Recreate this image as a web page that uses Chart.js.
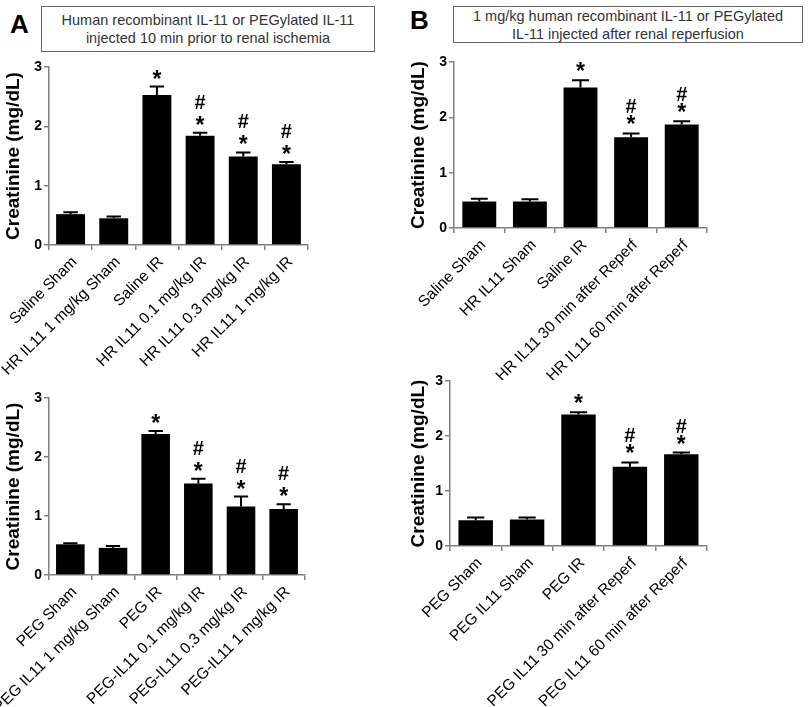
<!DOCTYPE html>
<html>
<head>
<meta charset="utf-8">
<script src="https://cdn.jsdelivr.net/npm/chart.js@4"></script>
<style>
  body { margin: 0; background: #fff; font-family: "Liberation Sans", Arial, sans-serif; }
  #page { position: relative; width: 810px; height: 707px; overflow: hidden; }
  canvas { position: absolute; }
  .letter { position: absolute; font-weight: bold; font-size: 26px; line-height: 26px; color: #000; }
  .box { position: absolute; border: 1.5px solid #666; box-sizing: border-box; text-align: center;
         font-size: 14.5px; line-height: 18px; color: #333; }
</style>
</head>
<body>
<div id="page">
  <div class="letter" style="left:10px; top:11px;">A</div>
  <div class="box" style="left:41px; top:6px; width:334px; height:46px; padding-top:4px;">Human recombinant IL-11 or PEGylated IL-11<br>injected 10 min prior to renal ischemia</div>
  <div class="letter" style="left:410px; top:7px;">B</div>
  <div class="box" style="left:453px; top:6px; width:350px; height:37px; padding-top:0px;">1 mg/kg human recombinant IL-11 or PEGylated<br>IL-11 injected after renal reperfusion</div>

  <canvas id="aTop" width="405" height="320" style="left:0px; top:55px;"></canvas>
  <canvas id="aBot" width="405" height="322" style="left:0px; top:385px;"></canvas>
  <canvas id="bTop" width="405" height="330" style="left:405px; top:50px;"></canvas>
  <canvas id="bBot" width="405" height="337" style="left:405px; top:370px;"></canvas>
</div>
<script>
// panel A, top: human recombinant IL-11 before ischemia
const aTopLabels = ['Saline Sham', 'HR IL11 1 mg/kg Sham', 'Saline IR', 'HR IL11 0.1 mg/kg IR', 'HR IL11 0.3 mg/kg IR', 'HR IL11 1 mg/kg IR'];
const aTopMeans = [0.52, 0.45, 2.53, 1.84, 1.49, 1.36];
const aTopSem = [0.03, 0.03, 0.14, 0.05, 0.07, 0.04];
const aTopMarks = ['', '', '*', '#*', '#*', '#*'];

// panel A, bottom: PEGylated IL-11 before ischemia
const aBotLabels = ['PEG Sham', 'PEG IL11 1 mg/kg Sham', 'PEG IR', 'PEG-IL11 0.1 mg/kg IR', 'PEG-IL11 0.3 mg/kg IR', 'PEG-IL11 1 mg/kg IR'];
const aBotMeans = [0.52, 0.46, 2.39, 1.55, 1.16, 1.12];
const aBotSem = [0.02, 0.03, 0.05, 0.08, 0.17, 0.08];
const aBotMarks = ['', '', '*', '#*', '#*', '#*'];

// panel B, top: human recombinant IL-11 after reperfusion
const bTopLabels = ['Saline Sham', 'HR IL11 Sham', 'Saline IR', 'HR IL11 30 min after Reperf', 'HR IL11 60 min after Reperf'];
const bTopMeans = [0.48, 0.48, 2.54, 1.64, 1.87];
const bTopSem = [0.05, 0.04, 0.13, 0.07, 0.06];
const bTopMarks = ['', '', '*', '#*', '#*'];

// panel B, bottom: PEGylated IL-11 after reperfusion
const bBotLabels = ['PEG Sham', 'PEG IL11 Sham', 'PEG IR', 'PEG IL11 30 min after Reperf', 'PEG IL11 60 min after Reperf'];
const bBotMeans = [0.47, 0.48, 2.39, 1.44, 1.67];
const bBotSem = [0.05, 0.04, 0.04, 0.08, 0.03];
const bBotMarks = ['', '', '*', '#*', '#*'];

const yTicks = [0, 1, 2, 3];

const FONT = '"Liberation Sans", Arial, sans-serif';
const AXIS = '#808080';

// one-sided SEM bars plus the * / # significance marks
const errorBars = {
  id: 'errorBars',
  afterDatasetsDraw(chart, args, opts) {
    const ctx = chart.ctx;
    const ds = chart.data.datasets[0];
    const y = chart.scales.y;
    ctx.save();
    ctx.strokeStyle = '#000';
    ctx.fillStyle = '#000';
    ctx.lineWidth = 2;
    ctx.textAlign = 'center';
    ctx.textBaseline = 'alphabetic';
    chart.getDatasetMeta(0).data.forEach((bar, i) => {
      const top = y.getPixelForValue(ds.data[i] + ds.sem[i]);
      const half = bar.width / 4;
      ctx.beginPath();
      ctx.moveTo(bar.x, bar.y);
      ctx.lineTo(bar.x, top);
      ctx.moveTo(bar.x - half, top);
      ctx.lineTo(bar.x + half, top);
      ctx.stroke();
      const m = ds.marks[i];
      if (m.includes('*')) {
        ctx.font = 'bold 23px ' + FONT;
        ctx.fillText('*', bar.x, top - opts.star);
      }
      if (m.includes('#')) {
        ctx.font = 'bold 20px ' + FONT;
        ctx.fillText('#', bar.x, top - opts.hash);
      }
    });
    ctx.restore();
  }
};

function makeChart(id, labels, means, sem, marks, g) {
  return new Chart(document.getElementById(id), {
    type: 'bar',
    data: {
      labels: labels,
      datasets: [{
        data: means,
        sem: sem,
        marks: marks,
        backgroundColor: '#000',
        borderWidth: 0,
        barPercentage: g.barPct,
        categoryPercentage: 1
      }]
    },
    options: {
      responsive: false,
      animation: false,
      events: [],
      layout: { padding: { top: g.top, right: g.right, left: 0, bottom: 0 } },
      plugins: {
        legend: { display: false },
        tooltip: { enabled: false },
        errorBars: { star: g.star, hash: g.hash }
      },
      scales: {
        x: {
          grid: { drawOnChartArea: false, color: AXIS, lineWidth: 1.5, tickLength: 5 },
          border: { color: AXIS, width: 1.5 },
          ticks: {
            color: '#000', autoSkip: false, minRotation: 45, maxRotation: 45,
            padding: 3, labelOffset: 4,
            font: { family: FONT, size: 15.5 }
          },
          afterFit: s => { s.height = g.xh; }
        },
        y: {
          min: 0, max: 3,
          afterBuildTicks: s => { s.ticks = yTicks.map(v => ({ value: v })); },
          grid: { drawOnChartArea: false, color: AXIS, lineWidth: 1.5, tickLength: 5 },
          border: { color: AXIS, width: 1.5 },
          ticks: { color: '#000', padding: 2, font: { family: FONT, size: 14, weight: 'bold' } },
          title: {
            display: true, text: 'Creatinine (mg/dL)', color: '#000',
            padding: { top: 2, bottom: 0 },
            font: { family: FONT, size: 19, weight: 'bold' }
          },
          afterFit: s => { s.width = g.yw; }
        }
      }
    },
    plugins: [errorBars]
  });
}

makeChart('aTop', aTopLabels, aTopMeans, aTopSem, aTopMarks,
  { top: 12, right: 97, xh: 130, yw: 49, barPct: 0.67, star: 0, hash: 24 });
makeChart('aBot', aBotLabels, aBotMeans, aBotSem, aBotMarks,
  { top: 13, right: 100, xh: 132, yw: 49, barPct: 0.67, star: 0, hash: 24 });
makeChart('bTop', bTopLabels, bTopMeans, bTopSem, bTopMarks,
  { top: 12, right: 103, xh: 152, yw: 49, barPct: 0.67, star: 1, hash: 20 });
makeChart('bBot', bBotLabels, bBotMeans, bBotSem, bBotMarks,
  { top: 11, right: 103, xh: 161, yw: 45, barPct: 0.67, star: 1, hash: 20 });
</script>
</body>
</html>
